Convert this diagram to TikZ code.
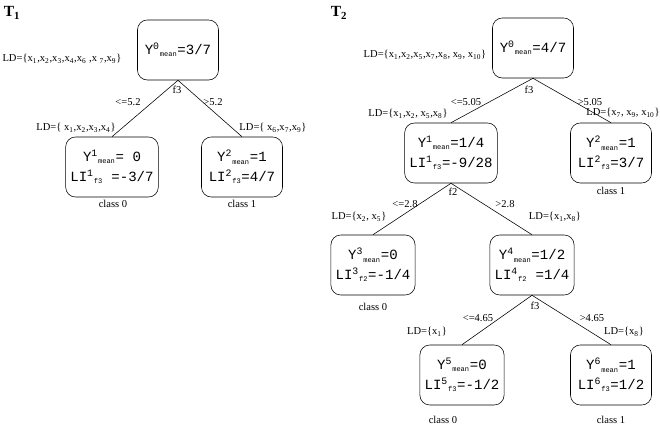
\documentclass[tikz,border=0pt]{standalone}
\usepackage{fontspec}
\setmainfont{Liberation Serif}
\setmonofont{Liberation Mono}
\usetikzlibrary{positioning}

\newcommand{\upsub}[2]{\textsuperscript{#1}\textsubscript{\tiny #2}}
\newcommand{\xs}[1]{x\textsubscript{#1}}

\tikzset{
  box/.style={draw, rounded corners=7pt, minimum width=2.025cm, minimum height=1.5cm,
    align=center, font=\ttfamily\fontsize{10}{14}\selectfont},
  lbl/.style={font=\fontsize{7.5}{9}\selectfont, inner sep=1pt},
  ttl/.style={font=\bfseries\fontsize{11}{12}\selectfont}
}

\begin{document}
\begin{tikzpicture}[x=0.025cm, y=-0.025cm]
  \useasboundingbox (0,0) rectangle (660,426);

  % Tree T1
  \node[ttl] (t1) at (12,13) {T\textsubscript{1}};
  \node[box] (a0) at (178,50) {Y\upsub{0}{mean}=3/7};
  \node[box] (a1) at (112,167) {Y\upsub{1}{mean}= 0\\LI\upsub{1}{f3} =-3/7};
  \node[box] (a2) at (242,167) {Y\upsub{2}{mean}=1\\LI\upsub{2}{f3}=4/7};
  \draw (a0.south) -- (a1.north);
  \draw (a0.south) -- (a2.north);
  \node[lbl] (lda0) at (62,59) {LD=\{\xs{1},\xs{2},\xs{3},\xs{4},\xs{6} ,x \textsubscript{7},\xs{9}\}};
  \node[lbl] (fa0) at (177,90) {f3};
  \node[lbl] (ca1) at (128,102) {<=5.2};
  \node[lbl] (ca2) at (213,102) {>5.2};
  \node[lbl] (lda1) at (76,128) {LD=\{ \xs{1},\xs{2},\xs{3},\xs{4}\}};
  \node[lbl] (lda2) at (273,128) {LD=\{ \xs{6},\xs{7},\xs{9}\}};
  \node[lbl] (kla1) at (113,204) {class 0};
  \node[lbl] (kla2) at (242,204) {class 1};

  % Tree T2
  \node[ttl] (t2) at (339,13) {T\textsubscript{2}};
  \node[box] (b0) at (533,48) {Y\upsub{0}{mean}=4/7};
  \node[box] (b1) at (451,153) {Y\upsub{1}{mean}=1/4\\LI\upsub{1}{f3}=-9/28};
  \node[box] (b2) at (611,153) {Y\upsub{2}{mean}=1\\LI\upsub{2}{f3}=3/7};
  \node[box] (b3) at (373,265) {Y\upsub{3}{mean}=0\\LI\upsub{3}{f2}=-1/4};
  \node[box] (b4) at (532,265) {Y\upsub{4}{mean}=1/2\\LI\upsub{4}{f2} =1/4};
  \node[box] (b5) at (462,375) {Y\upsub{5}{mean}=0\\LI\upsub{5}{f3}=-1/2};
  \node[box] (b6) at (611,375) {Y\upsub{6}{mean}=1\\LI\upsub{6}{f3}=1/2};
  \draw (b0.south) -- (b1.north);
  \draw (b0.south) -- (b2.north);
  \draw (b1.south) -- (b3.north);
  \draw (b1.south) -- (b4.north);
  \draw (b4.south) -- (b5.north);
  \draw (b4.south) -- (b6.north);

  \node[lbl] (ldb0) at (425,55) {LD=\{\xs{1},\xs{2},\xs{5},\xs{7},\xs{8}, \xs{9}, \xs{10}\}};
  \node[lbl] (fb0) at (529,90) {f3};
  \node[lbl] (cb1) at (466,102) {<=5.05};
  \node[lbl] (cb2) at (590,102) {>5.05};
  \node[lbl] (ldb1) at (408,114) {LD=\{\xs{1},\xs{2}, \xs{5},\xs{8}\}};
  \node[lbl] (ldb2) at (623,113) {LD=\{\xs{7}, \xs{9}, \xs{10}\}};
  \node[lbl] (klb2) at (611,191) {class 1};

  \node[lbl] (fb1) at (453,192) {f2};
  \node[lbl] (cb3) at (405,204) {<=2.8};
  \node[lbl] (cb4) at (505,204) {>2.8};
  \node[lbl] (ldb3) at (359,217) {LD=\{\xs{2}, \xs{5}\}};
  \node[lbl] (ldb4) at (555,217) {LD=\{\xs{1},\xs{8}\}};
  \node[lbl] (klb3) at (373,307) {class 0};

  \node[lbl] (fb4) at (535,306) {f3};
  \node[lbl] (cb5) at (478,318) {<=4.65};
  \node[lbl] (cb6) at (592,318) {>4.65};
  \node[lbl] (ldb5) at (427,332) {LD=\{\xs{1}\}};
  \node[lbl] (ldb6) at (624,332) {LD=\{\xs{8}\}};
  \node[lbl] (klb5) at (443,420) {class 0};
  \node[lbl] (klb6) at (611,420) {class 1};
\end{tikzpicture}
\end{document}
